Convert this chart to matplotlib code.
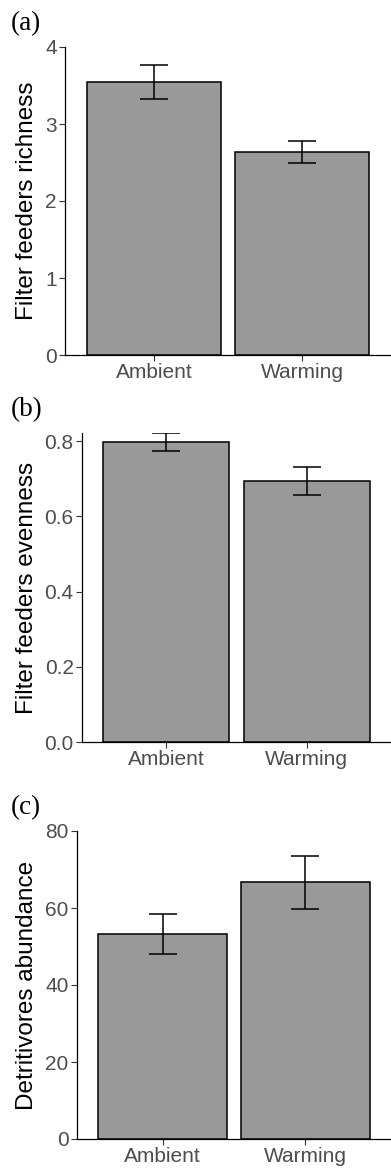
import numpy as np
from matplotlib import pyplot as plt

plt.rcParams['font.family'] = ['Liberation Sans', 'DejaVu Sans']

groups = ["Ambient", "Warming"]

richness = [3.55, 2.64]
richness_lo = [3.33, 2.50]
richness_hi = [3.77, 2.78]

evenness = [0.797, 0.694]
evenness_lo = [0.774, 0.658]
evenness_hi = [0.822, 0.731]

abundance = [53.3, 66.7]
abundance_lo = [48.1, 59.7]
abundance_hi = [58.5, 73.4]

W, H = 391, 1173
fig = plt.figure(figsize=(W / 100, H / 100), dpi=100)


def panel(box, vals, lo, hi, ylim, yticks, ticklabels, ylabel, tag, tag_y):
    left, right, top, bottom = box
    ax = fig.add_axes([left / W, 1 - bottom / H, (right - left) / W, (bottom - top) / H])
    x = np.arange(1, len(groups) + 1)
    vals = np.array(vals)
    err = [vals - np.array(lo), np.array(hi) - vals]
    ax.bar(x, vals, width=0.9, color='#999999', edgecolor='black', linewidth=1.1, zorder=2)
    ax.errorbar(x, vals, yerr=err, fmt='none', ecolor='black', elinewidth=1.1,
                capsize=10, capthick=1.1, zorder=3)
    ax.set_xlim(0.4, 2.6)
    ax.set_ylim(*ylim)
    ax.set_xticks(x)
    ax.set_xticklabels(groups)
    ax.set_yticks(yticks)
    ax.set_yticklabels(ticklabels)
    for s in ['top', 'right']:
        ax.spines[s].set_visible(False)
    for s in ['left', 'bottom']:
        ax.spines[s].set_linewidth(0.9)
        ax.spines[s].set_color('black')
    ax.tick_params(axis='both', labelsize=15, colors='#333333', labelcolor='#4D4D4D',
                   length=4, width=0.8, pad=2)
    fig.text(27 / W, 1 - (top + bottom) / 2 / H, ylabel, rotation=90, ha='center', va='center',
             fontsize=17.5, color='black')
    fig.text(11 / W, 1 - tag_y / H, tag, family=['Liberation Serif'], fontsize=19.5,
             ha='left', va='center')
    return ax


panel((65, 391, 47, 355), richness, richness_lo, richness_hi, (0, 4),
      [0, 1, 2, 3, 4], ["0", "1", "2", "3", "4"], "Filter feeders richness", "(a)", 24)
panel((82, 391, 433, 742), evenness, evenness_lo, evenness_hi, (0, 0.822),
      [0, 0.2, 0.4, 0.6, 0.8], ["0.0", "0.2", "0.4", "0.6", "0.8"],
      "Filter feeders evenness", "(b)", 410)
panel((77, 391, 831, 1139), abundance, abundance_lo, abundance_hi, (0, 80),
      [0, 20, 40, 60, 80], ["0", "20", "40", "60", "80"], "Detritivores abundance", "(c)", 808)

plt.savefig("out.png", dpi=100)
